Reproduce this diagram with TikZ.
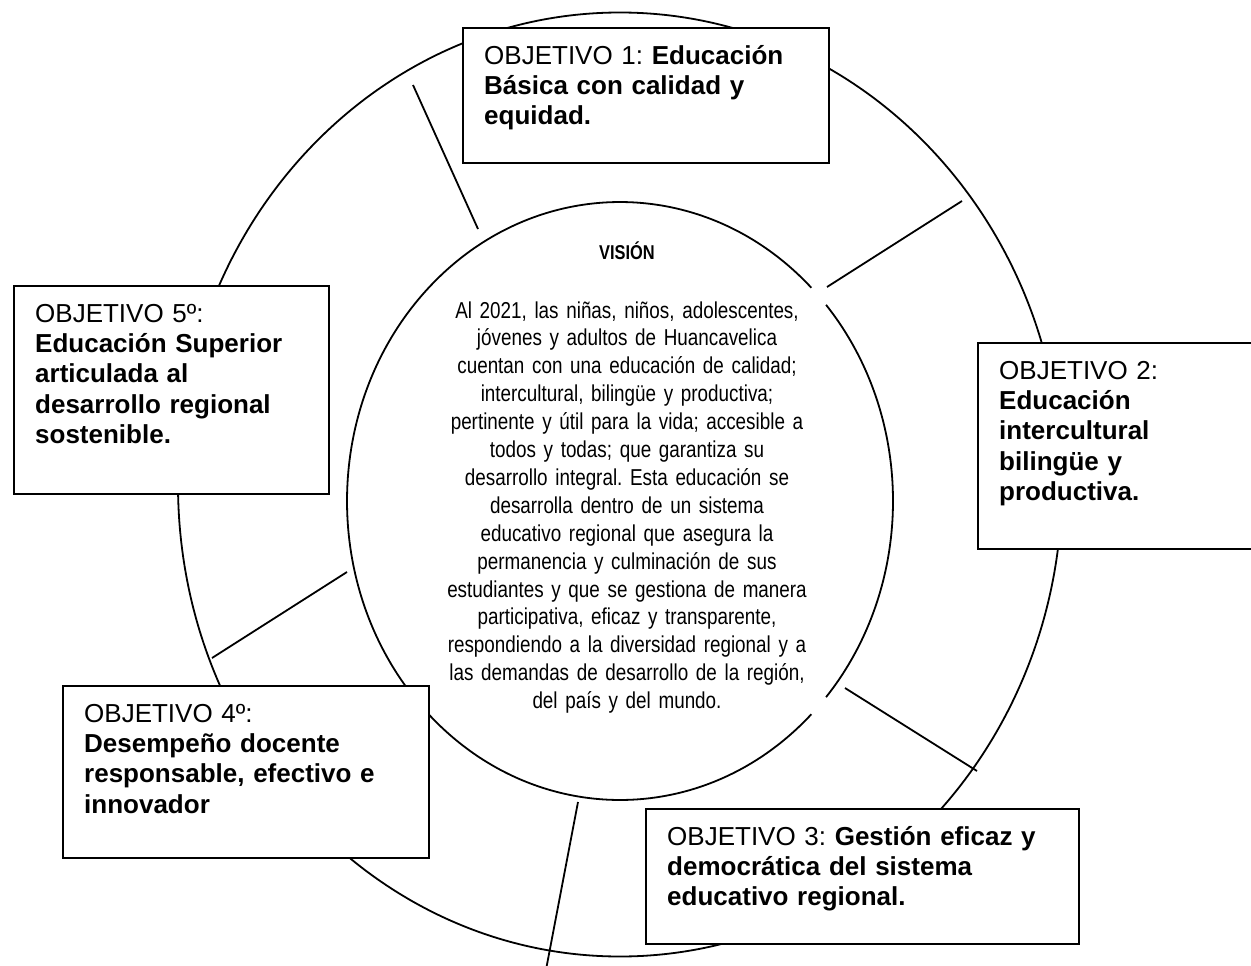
\documentclass[tikz,border=0pt]{standalone}
\usepackage{fontspec}
\setmainfont{Liberation Sans}
\newfontfamily\estrecha[FakeStretch=0.82]{Liberation Sans}
\frenchspacing
\tikzset{
  objetivo/.style 2 args={draw, fill=white, line width=2.4pt, anchor=north west,
    align=left, inner xsep=21pt, inner ysep=0pt, text width=#1,
    text height=36pt, text depth=#2, font=\fontsize{26}{30.3}\selectfont},
  titulo/.style={anchor=base, inner sep=0pt, font=\estrecha\bfseries\fontsize{20}{24}\selectfont},
  cuerpo/.style={anchor=base, inner sep=0pt, align=center, text width=440pt,
    font=\estrecha\fontsize{23}{27.9}\selectfont},
  linea/.style={line width=1.8pt}
}
\begin{document}
\begin{tikzpicture}[x=1pt,y=-1pt]
\clip (0,0) rectangle (1251,966);
\coordinate (centro) at (620,501);
\coordinate (afuera) at (620,484.5);

% ellipses
\draw[linea] (afuera) ellipse [x radius=442, y radius=472];
\draw[linea] ([shift={(-41:273 and 299)}]centro) arc [start angle=-41, end angle=41, x radius=273, y radius=299];
\draw[linea] ([shift={(45.5:273 and 299)}]centro) arc [start angle=45.5, end angle=314.5, x radius=273, y radius=299];

% spokes
\coordinate (r1a) at (413,85);
\coordinate (r1b) at (478,229);
\coordinate (r2a) at (962,201);
\coordinate (r2b) at (827,287);
\coordinate (r3a) at (845,688);
\coordinate (r3b) at (977,771);
\coordinate (r4a) at (578,802);
\coordinate (r4b) at (545,975);
\coordinate (r5a) at (347,572);
\coordinate (r5b) at (212,658);
\draw[linea] (r1a) -- (r1b);
\draw[linea] (r2a) -- (r2b);
\draw[linea] (r3a) -- (r3b);
\draw[linea] (r4a) -- (r4b);
\draw[linea] (r5a) -- (r5b);

% vision
\node[titulo] (vision) at (627,259) {VISIÓN};
\node[cuerpo] (texto) at (627,318) {Al 2021, las niñas, niños, adolescentes,\\
jóvenes y adultos de Huancavelica\\
cuentan con una educación de calidad;\\
intercultural, bilingüe y productiva;\\
pertinente y útil para la vida; accesible a\\
todos y todas; que garantiza su\\
desarrollo integral. Esta educación se\\
desarrolla dentro de un sistema\\
educativo regional que asegura la\\
permanencia y culminación de sus\\
estudiantes y que se gestiona de manera\\
participativa, eficaz y transparente,\\
respondiendo a la diversidad regional y a\\
las demandas de desarrollo de la región,\\
del país y del mundo.};

% objectives
\node[objetivo={324pt}{99pt}] (obj1) at (462,27) {OBJETIVO 1: \textbf{Educación}\\
\textbf{Básica con calidad y}\\ \textbf{equidad.}};
\node[objetivo={241pt}{170pt}] (obj2) at (977,342) {OBJETIVO 2:\\ \textbf{Educación}\\
\textbf{intercultural}\\ \textbf{bilingüe y}\\ \textbf{productiva.}};
\node[objetivo={391pt}{99pt}] (obj3) at (645,808) {OBJETIVO 3: \textbf{Gestión eficaz y}\\
\textbf{democrática del sistema}\\ \textbf{educativo regional.}};
\node[objetivo={324pt}{136pt}] (obj4) at (62,685) {OBJETIVO 4º:\\ \textbf{Desempeño docente}\\
\textbf{responsable, efectivo e}\\ \textbf{innovador}};
\node[objetivo={273pt}{172pt}] (obj5) at (13,285) {OBJETIVO 5º:\\ \textbf{Educación Superior}\\
\textbf{articulada al}\\ \textbf{desarrollo regional}\\ \textbf{sostenible.}};
\end{tikzpicture}
\end{document}
